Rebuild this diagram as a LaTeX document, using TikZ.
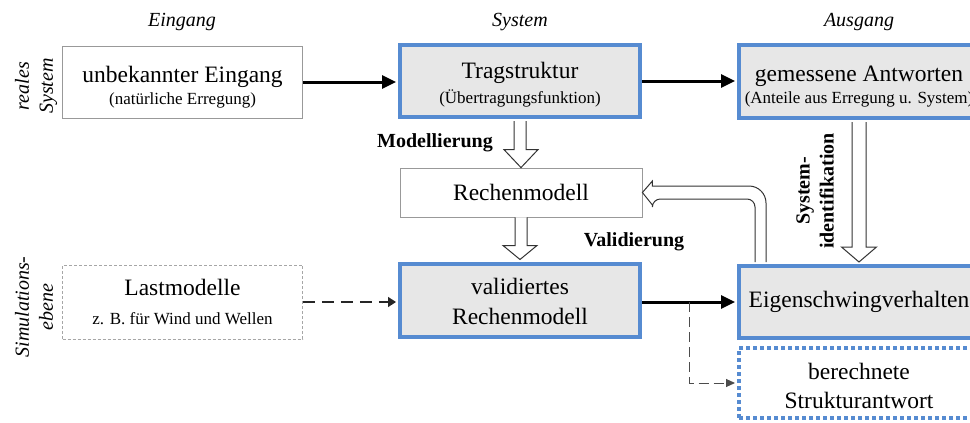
\documentclass[tikz,border=0pt]{standalone}
\usepackage{fontspec}
\setmainfont{Liberation Serif}
\usetikzlibrary{arrows.meta,calc}
\definecolor{sysblue}{RGB}{86,139,209}
\definecolor{sysfill}{RGB}{231,231,231}
\newcommand{\txtmain}{\fontsize{23.5}{28}\selectfont}
\newcommand{\txtsub}{\fontsize{17}{21}\selectfont}
\newcommand{\toppad}[1]{\rule{0pt}{#1}}
\tikzset{>/.tip={Triangle[length=14pt,width=13pt]}}

\begin{document}
\begin{tikzpicture}[x=1pt,y=-1pt,
  basebox/.style={inner sep=0pt, minimum width=240pt, align=center, font=\txtmain},
  sysbox/.style={basebox, draw=sysblue, fill=sysfill, line width=4pt},
  plainbox/.style={basebox, draw=black!40, line width=0.8pt},
  lastbox/.style={basebox, draw=black!35, line width=0.8pt, dash pattern=on 3pt off 2pt},
  simbox/.style={basebox, draw=sysblue, line width=4pt, dash pattern=on 4pt off 3pt},
  head/.style={font=\fontsize{20}{24}\selectfont\itshape},
  side/.style={font=\fontsize{20}{24}\selectfont\itshape, rotate=90, align=center},
  steplabel/.style={font=\fontsize{20}{24}\selectfont\bfseries, align=center},
  flow/.style={->, line width=3pt, shorten >=2pt},
  dflow/.style={-{Triangle[length=8pt,width=10pt]}, line width=1.5pt, dash pattern=on 12pt off 7pt, black!85, shorten >=2pt},
  branch/.style={-{Triangle[length=9pt,width=8pt]}, line width=1pt, dash pattern=on 10pt off 5pt, black!70, shorten >=2pt},
  hollow/.style={draw=black!80, fill=white, line width=1pt}]
\useasboundingbox (0,0) rectangle (970,423);
\clip (0,0) rectangle (970,423);

% column and row headings
\node[head] (colin) at (182,22) {Eingang};
\node[head] (colsys) at (520,22) {System};
\node[head] (colout) at (859,22) {Ausgang};
\node[side] (rowreal) at (36,86) {reales\\System};
\node[side] (rowsim) at (34,307) {Simulations-\\ebene};

% boxes
\node[plainbox, minimum height=72pt] (inp) at (182.5,82) {\toppad{26pt}unbekannter Eingang\\[-6pt]{\txtsub (natürliche Erregung)}};
\node[sysbox, minimum height=72pt] (trag) at (520,81) {\toppad{24pt}Tragstruktur\\[-3pt]{\txtsub (Übertragungsfunktion)}};
\node[sysbox, minimum height=73pt] (mess) at (859,81.5) {\toppad{26pt}gemessene Antworten\\[-6pt]{\txtsub (Anteile aus Erregung u. System)}};
\node[plainbox, minimum width=242pt, minimum height=49pt] (rech) at (521,192.5) {Rechenmodell};
\node[sysbox, minimum height=73pt] (valid) at (520,300) {\toppad{19pt}validiertes\\[2pt]Rechenmodell};
\node[lastbox, minimum height=74pt] (last) at (182.5,302) {Lastmodelle\\[1pt]{\txtsub z. B. für Wind und Wellen}};
\node[sysbox, minimum height=72pt] (eigen) at (859,302) {Eigenschwingverhalten};
\node[simbox, minimum height=70pt] (struk) at (859,383) {\toppad{22pt}berechnete\\[1pt]Strukturantwort};

% labels of the steps
\node[steplabel] (lmod) at (435,143) {Modellierung};
\node[steplabel] (lval) at (634,242) {Validierung};
\node[steplabel, rotate=90] (lident) at (815,191) {System-\\identifikation};

% signal flow
\draw[flow] (inp.east) -- (inp.east -| trag.west);
\draw[flow] (trag.east) -- (trag.east -| mess.west);
\draw[dflow] (last.east) -- (last.east -| valid.west);
\draw[flow] (valid.east |- eigen.west) -- (eigen.west);
\coordinate (fork) at ($(valid.east |- eigen.west)!0.5!(eigen.west)$);
\draw[branch] (fork) |- (struk.west);

% hollow arrows
\draw[hollow] ($(trag.south)+(-6,2)$) |- ($(rech.north)+(-17,-18)$) -- (rech.north) -- ($(rech.north)+(17,-18)$) -| ($(trag.south)+(6,2)$);
\draw[hollow] ($(rech.south)+(-6,0)$) |- ($(valid.north)+(-17,-16)$) -- ($(valid.north)+(0,-2)$) -- ($(valid.north)+(17,-16)$) -| ($(rech.south)+(6,0)$);
\draw[hollow] ($(mess.south)+(-7,2)$) |- ($(eigen.north)+(-17.5,-17)$) -- ($(eigen.north)+(0,-2)$) -- ($(eigen.north)+(17.5,-17)$) -| ($(mess.south)+(7,2)$);
\draw[hollow] ($(eigen.north west)+(18,-2)$) [rounded corners=8pt] |- ($(rech.east)+(10,6.5)$) [sharp corners] -- ++(0,6) -- (rech.east) -- ++(10,-11.5) -- ++(0,5) [rounded corners=17pt] -| ($(eigen.north west)+(29,-2)$);
\end{tikzpicture}
\end{document}
